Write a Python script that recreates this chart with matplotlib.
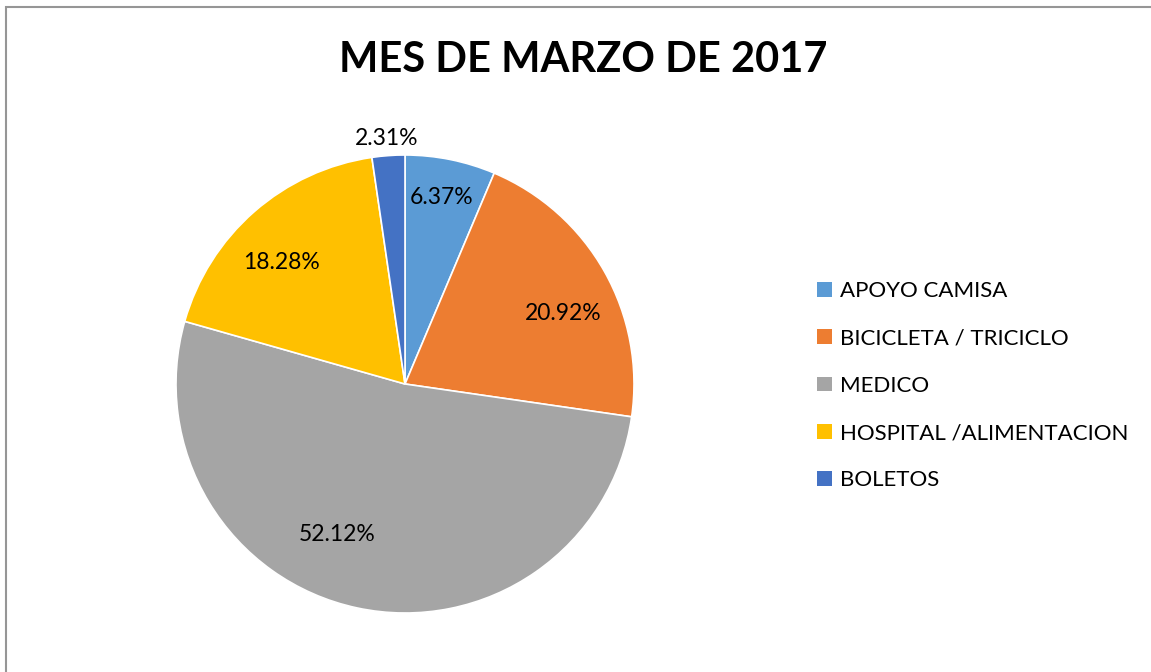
import numpy as np
import matplotlib.pyplot as plt
from matplotlib.patches import Rectangle, Patch

categories = ["APOYO CAMISA", "BICICLETA / TRICICLO", "MEDICO",
              "HOSPITAL /ALIMENTACION", "BOLETOS"]
values = [6.37, 20.92, 52.12, 18.28, 2.31]
colors = ["#5B9BD5", "#ED7D31", "#A5A5A5", "#FFC000", "#4472C4"]
label_radius = [0.83, 0.755, 0.72, 0.755, 1.077]
label_shift = [0.5, -5.5, -12.4, 4.3, 0.0]  # degrees, Excel best-fit placement

plt.rcParams['font.family'] = ['Lato', 'DejaVu Sans']

W, H = 1151, 672
fig = plt.figure(figsize=(W / 100, H / 100), dpi=100)

# chart frame (only top/left edges fall inside the picture)
fig.patches.append(Rectangle((6 / W, -0.1), 1.2, (H - 7) / H + 0.1,
                             transform=fig.transFigure, fill=False,
                             edgecolor="#969696", linewidth=1.5))

cx, cy, r = 405, 384, 229
ax = fig.add_axes([(cx - r) / W, (H - cy - r) / H, 2 * r / W, 2 * r / H])
wedges, _ = ax.pie(values, colors=colors, startangle=90, counterclock=False,
                   radius=1, wedgeprops=dict(edgecolor="white", linewidth=1.2))
ax.set_xlim(-1, 1)
ax.set_ylim(-1, 1)
ax.set_aspect("equal")
ax.axis("off")

for w, v, lr, sh in zip(wedges, values, label_radius, label_shift):
    ang = np.deg2rad((w.theta1 + w.theta2) / 2 + sh)
    ax.text(lr * np.cos(ang), lr * np.sin(ang), f"{v:.2f}%",
            ha="center", va="center", fontsize=16.5, color="#000000")

fig.text(583 / W, 1 - 60 / H, "MES DE MARZO DE 2017", ha="center", va="center",
         fontsize=30, fontweight="bold", color="#000000")

handles = [Patch(facecolor=c, edgecolor="none") for c in colors]
fig.legend(handles, categories, loc="upper left",
           bbox_to_anchor=(806 / W, 1 - 270 / H), frameon=False,
           fontsize=16, handlelength=0.65, handleheight=0.65,
           handletextpad=0.4, labelspacing=1.23, borderpad=0)

fig.savefig("out.png", dpi=100)
